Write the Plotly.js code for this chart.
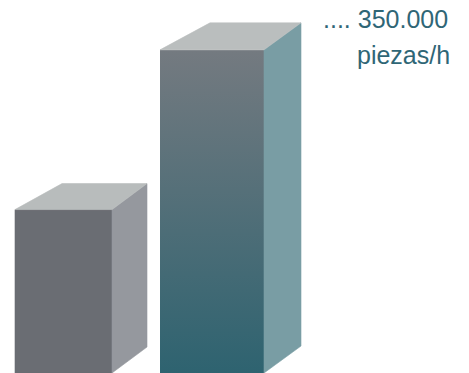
<!DOCTYPE html>
<html>
<head>
<meta charset="utf-8">
<script src="https://cdn.plot.ly/plotly-3.0.1.min.js"></script>
<style>html,body{margin:0;padding:0;background:#fff;}#chart{width:469px;height:373px;}</style>
</head>
<body>
<div id="chart"></div>
<script>
// ---- data ----
const categories = ['Barra 1', 'Barra 2'];
const values = [177000, 350000];
const unitLabel = 'piezas/h';

// ---- style / layout ----
const W = 469, H = 373;
const yMax = 404000;
const unitPerPx = yMax / H;
const barLeft = [15, 160];
const barRight = [112, 264];
const depthLeftPx = [47, 50];
const depthRightPx = [35, 37];
const depthUpPx = [26, 27];
const frontColor = ['#6a6d73', null];
const gradColors = [['#2e6370', '#747a80']];
const sideColor = ['#95989e', '#799da4'];
const topColor = ['#b8bcbc', '#babebe'];
const textColor = '#2f6676';

const traces = [];
values.forEach((v, i) => {
  const x0 = barLeft[i], x1 = barRight[i];
  const up = depthUpPx[i] * unitPerPx;
  const dl = depthLeftPx[i], dr = depthRightPx[i];
  // front face
  const front = {
    type: 'scatter', mode: 'lines', name: categories[i],
    x: [x0, x1, x1, x0, x0], y: [0, 0, v, v, 0],
    fill: 'toself', line: {width: 0.6, color: frontColor[i] || '#50696f'},
    hoverinfo: 'name+text', text: String(v)
  };
  if (frontColor[i]) {
    front.fillcolor = frontColor[i];
  } else {
    front.line.width = 0;
    front.fillgradient = {type: 'vertical', start: 0, stop: v,
      colorscale: [[0, gradColors[0][0]], [1, gradColors[0][1]]]};
  }
  traces.push(front);
  // side face
  traces.push({
    type: 'scatter', mode: 'lines', name: categories[i],
    x: [x1, x1 + dr, x1 + dr, x1, x1], y: [0, up, v + up, v, 0],
    fill: 'toself', fillcolor: sideColor[i], line: {width: 0.6, color: sideColor[i]},
    hoverinfo: 'skip'
  });
  // top face
  traces.push({
    type: 'scatter', mode: 'lines', name: categories[i],
    x: [x0, x1, x1 + dr, x0 + dl, x0], y: [v, v, v + up, v + up, v],
    fill: 'toself', fillcolor: topColor[i], line: {width: 0.6, color: topColor[i]},
    hoverinfo: 'skip'
  });
});

const fmt = n => String(n).replace(/\B(?=(\d{3})+(?!\d))/g, '.');
const font = {family: 'Liberation Sans, Arial, sans-serif', size: 25, color: textColor};

const layout = {
  width: W, height: H,
  margin: {l: 0, r: 0, t: 0, b: 0},
  paper_bgcolor: '#ffffff', plot_bgcolor: '#ffffff',
  showlegend: false,
  xaxis: {range: [0, W], visible: false, fixedrange: true},
  yaxis: {range: [0, yMax], visible: false, fixedrange: true},
  annotations: [
    {xref: 'x', yref: 'paper', x: 321, y: 1 - 19 / H, xanchor: 'left', yanchor: 'middle',
     text: '.... ' + fmt(values[1]), showarrow: false, font: font},
    {xref: 'x', yref: 'paper', x: 355, y: 1 - 55 / H, xanchor: 'left', yanchor: 'middle',
     text: unitLabel, showarrow: false, font: font}
  ]
};

Plotly.newPlot('chart', traces, layout, {displayModeBar: false, staticPlot: true});
</script>
</body>
</html>
